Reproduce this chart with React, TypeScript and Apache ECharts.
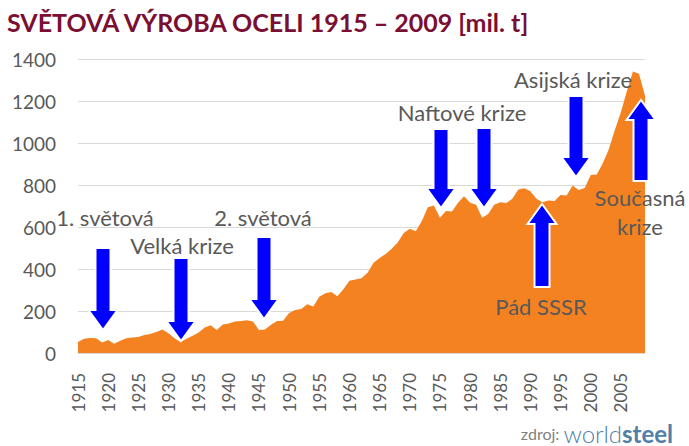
import React, { useEffect, useRef } from "react";
import * as echarts from "echarts";

const years: string[] = [];
for (let y = 1915; y <= 2009; y++) years.push(String(y));

const production: number[] = [
  52, 68, 72, 70, 50, 62, 44, 58, 70, 74, // 1915-1924
  76, 86, 90, 100, 112, 94, 70, 52, 68, 82, // 1925-1934
  98, 122, 132, 110, 136, 140, 150, 152, 156, 150, // 1935-1944
  110, 112, 134, 152, 154, 190, 205, 210, 232, 222, // 1945-1954
  268, 284, 290, 270, 304, 344, 350, 356, 382, 430, // 1955-1964
  452, 472, 496, 526, 572, 592, 580, 628, 694, 702, // 1965-1974
  644, 676, 674, 716, 746, 716, 706, 644, 662, 706, // 1975-1984
  718, 714, 734, 778, 784, 770, 734, 718, 726, 724, // 1985-1994
  752, 750, 798, 776, 786, 848, 850, 904, 970, 1062, // 1995-2004
  1146, 1248, 1340, 1330, 1225, // 2005-2009
];

const yTicks = [0, 200, 400, 600, 800, 1000, 1200, 1400];

const TEXT_GRAY = "#595959";
const FONT = "Lato, 'Liberation Sans', sans-serif";

type Arrow = { tx: number; ty: number; end: number; dir: "down" | "up" };
const arrows: Arrow[] = [
  { tx: 103, ty: 330, end: 248, dir: "down" },
  { tx: 181, ty: 341, end: 258, dir: "down" },
  { tx: 264, ty: 319, end: 237, dir: "down" },
  { tx: 441, ty: 208, end: 129, dir: "down" },
  { tx: 484, ty: 208, end: 128, dir: "down" },
  { tx: 576, ty: 177, end: 96, dir: "down" },
  { tx: 542, ty: 204, end: 287, dir: "up" },
  { tx: 641, ty: 100, end: 181, dir: "up" },
];

const labels = [
  { text: "1. světová", x: 105, y: 217 },
  { text: "Velká krize", x: 182, y: 245 },
  { text: "2. světová", x: 263, y: 217 },
  { text: "Naftové krize", x: 462, y: 112 },
  { text: "Asijská krize", x: 573, y: 79 },
  { text: "Současná", x: 640, y: 197 },
  { text: "krize", x: 640, y: 226 },
  { text: "Pád SSSR", x: 541, y: 306 },
];

function arrowPoints(a: Arrow): number[][] {
  const sw = 7.5;
  const hw = 14.5;
  const hh = 20;
  const hb = a.dir === "down" ? a.ty - hh : a.ty + hh;
  return [
    [a.tx - sw, a.end], [a.tx + sw, a.end], [a.tx + sw, hb], [a.tx + hw, hb],
    [a.tx, a.ty], [a.tx - hw, hb], [a.tx - sw, hb],
  ];
}

export default function App() {
  const ref = useRef<HTMLDivElement>(null);
  useEffect(() => {
    document.body.style.margin = "0";
    if (!ref.current) return;
    const chart = echarts.init(ref.current, undefined, { renderer: "svg" });
    const graphics: any[] = [];
    arrows.forEach((a) => {
      graphics.push({
        type: "polygon",
        shape: { points: arrowPoints(a) },
        style: { fill: "#0000FF", stroke: "#ffffff", lineWidth: 2 },
        z: 100,
      });
    });
    labels.forEach((l) => {
      graphics.push({
        type: "text",
        x: l.x,
        y: l.y,
        style: {
          text: l.text,
          fill: TEXT_GRAY,
          font: `22px ${FONT}`,
          textAlign: "center",
          textVerticalAlign: "middle",
        },
        z: 101,
      });
    });
    graphics.push({
      type: "text",
      x: 7,
      y: 22,
      style: {
        text: "SVĚTOVÁ VÝROBA OCELI 1915 – 2009 [mil. t]",
        fill: "#7A0F33",
        font: `bold 25px ${FONT}`,
        textAlign: "left",
        textVerticalAlign: "middle",
      },
    });
    graphics.push({
      type: "text",
      x: 673,
      y: 433,
      style: {
        text: "{a|zdroj: }{b|world}{c|steel}",
        textAlign: "right",
        textVerticalAlign: "middle",
        rich: {
          a: { fill: "#7f7f7f", fontSize: 16, fontFamily: FONT },
          b: { fill: "#4F80A8", fontSize: 24, fontFamily: FONT, fontWeight: 300 },
          c: { fill: "#4F80A8", fontSize: 24, fontFamily: FONT, fontWeight: "bold" },
        },
      },
    });

    chart.setOption({
      animation: false,
      backgroundColor: "#ffffff",
      grid: { left: 78, right: 44, top: 59, height: 294 },
      xAxis: {
        type: "category",
        data: years,
        boundaryGap: false,
        axisLine: { lineStyle: { color: "#d9d9d9" } },
        axisTick: { show: false },
        axisLabel: {
          interval: 4,
          rotate: 90,
          margin: 20,
          color: TEXT_GRAY,
          fontSize: 17,
          fontFamily: FONT,
        },
      },
      yAxis: {
        type: "value",
        min: yTicks[0],
        max: yTicks[yTicks.length - 1],
        interval: 200,
        axisLine: { show: false },
        axisTick: { show: false },
        splitLine: { lineStyle: { color: "#d9d9d9", width: 1 } },
        axisLabel: {
          color: TEXT_GRAY,
          fontSize: 19,
          fontFamily: FONT,
          margin: 22,
          formatter: (v: number) => String(v),
        },
      },
      series: [
        {
          type: "line",
          data: production,
          showSymbol: false,
          lineStyle: { width: 0 },
          areaStyle: { color: "#F58220", opacity: 1 },
          itemStyle: { color: "#F58220" },
          z: 2,
        },
      ],
      graphic: graphics,
    });
    return () => chart.dispose();
  }, []);
  return <div ref={ref} style={{ width: 689, height: 446 }} />;
}
